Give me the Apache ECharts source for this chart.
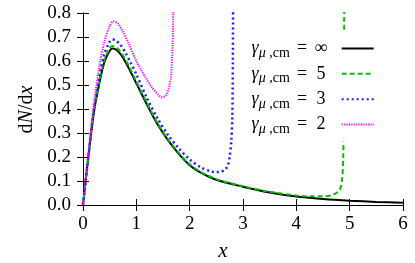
<!DOCTYPE html>
<html><head><meta charset="utf-8">
<script src="https://cdn.jsdelivr.net/npm/echarts@6/dist/echarts.min.js"></script>
<style>html,body{margin:0;padding:0;background:#fff}#c{width:415px;height:263px}</style>
</head><body><div id="c"></div>
<script>
const legendNames = ['∞', '5', '3', '2'];
const xTicks = [0, 1, 2, 3, 4, 5, 6];

const xInf = [0,0.1,0.2,0.3,0.4,0.5,0.55,0.6,0.7,0.8,0.9,1.0,1.2,1.4,1.6,1.8,2.0,2.2,2.5,3.0,3.5,4.0,4.5,5.0,5.5,6.0];
const yInf = [0,0.2,0.38,0.5,0.595,0.643,0.652,0.65,0.63,0.595,0.552,0.507,0.418,0.335,0.268,0.212,0.166,0.136,0.105,0.076,0.052,0.035,0.025,0.018,0.013,0.009];

const x5 = [0,0.1,0.2,0.3,0.4,0.5,0.55,0.6,0.7,0.8,0.9,1.0,1.2,1.4,1.6,1.8,2.0,2.2,2.5,3.0,3.5,4.0,4.3,4.5,4.65,4.75,4.82,4.86,4.88,4.89,4.9];
const y5 = [0,0.2,0.385,0.508,0.604,0.653,0.662,0.66,0.64,0.605,0.561,0.515,0.425,0.341,0.272,0.216,0.17,0.139,0.108,0.078,0.055,0.04,0.036,0.036,0.04,0.05,0.066,0.11,0.2,0.4,0.9];

const x3 = [0,0.1,0.2,0.3,0.4,0.5,0.55,0.6,0.7,0.8,0.9,1.0,1.2,1.4,1.6,1.8,2.0,2.2,2.4,2.5,2.6,2.67,2.72,2.75,2.78,2.8,2.81,2.815];
const y3 = [0,0.2,0.39,0.528,0.628,0.68,0.69,0.688,0.668,0.633,0.59,0.545,0.445,0.36,0.29,0.235,0.19,0.158,0.14,0.137,0.14,0.148,0.168,0.2,0.265,0.36,0.6,0.9];

const x2 = [0,0.1,0.2,0.3,0.4,0.5,0.57,0.65,0.75,0.85,1.0,1.1,1.2,1.3,1.4,1.48,1.55,1.6,1.65,1.68,1.7];
const y2 = [0,0.21,0.41,0.57,0.68,0.745,0.765,0.757,0.722,0.677,0.6,0.56,0.522,0.488,0.462,0.449,0.455,0.478,0.535,0.67,0.9];

const serif = 'Liberation Serif';
function pairs(xs, ys) { return xs.map((x, i) => [x, ys[i]]); }

const styles = [
  {color: '#000000', width: 2, type: 'solid'},
  {color: '#00c000', width: 2, type: [5, 3]},
  {color: '#1a1aff', width: 2.5, type: [2, 3]},
  {color: '#ff00ff', width: 2, type: [1.2, 1.2]}
];
const datasets = [pairs(xInf, yInf), pairs(x5, y5), pairs(x3, y3), pairs(x2, y2)];

const axisCommon = {
  type: 'value', min: 0,
  axisLine: {show: true, lineStyle: {color: '#000', width: 1}},
  axisTick: {show: true, inside: true, length: 6, lineStyle: {color: '#000', width: 1}},
  splitLine: {show: false}
};

const chart = echarts.init(document.getElementById('c'), null, {renderer: 'canvas'});
chart.setOption({
  animation: false,
  backgroundColor: '#fff',
  grid: {left: 83, right: 12, top: 13, bottom: 58},
  xAxis: [
    Object.assign({}, axisCommon, {position: 'bottom', max: 6, interval: 1,
      axisLabel: {show: true, margin: 10, color: '#000', fontFamily: serif, fontSize: 19,
        formatter: v => xTicks.includes(v) ? String(v) : ''}}),
    Object.assign({}, axisCommon, {position: 'top', max: 6, interval: 1, axisLabel: {show: false}})
  ],
  yAxis: [
    Object.assign({}, axisCommon, {position: 'left', max: 0.8, interval: 0.1,
      axisLabel: {show: true, margin: 12, color: '#000', fontFamily: serif, fontSize: 19,
        formatter: v => v.toFixed(1)}}),
    Object.assign({}, axisCommon, {position: 'right', max: 0.8, interval: 0.1, axisLabel: {show: false}})
  ],
  legend: {
    show: true, orient: 'vertical', align: 'right',
    left: 244.5, top: 30.7,
    padding: [5.7, 8, 5, 6],
    backgroundColor: '#fff',
    itemWidth: 32, itemHeight: 14, itemGap: 1.4,
    itemStyle: {opacity: 0},
    data: legendNames,
    formatter: name => '{g|γ}{s|μ}{t|,cm}{e|=}{v|' + name + '}',
    textStyle: {
      color: '#000', fontFamily: serif, fontSize: 18,
      rich: {
        g: {fontFamily: serif, fontStyle: 'italic', fontSize: 18, lineHeight: 16, width: 9, color: '#000'},
        s: {fontFamily: serif, fontStyle: 'italic', fontSize: 14, lineHeight: 4, width: 5.5, padding: [10, 0, 0, 0], color: '#000'},
        t: {fontFamily: serif, fontSize: 14, lineHeight: 4, width: 29, padding: [10, 0, 0, 0], color: '#000'},
        e: {fontFamily: serif, fontSize: 18, lineHeight: 16, width: 16, align: 'center', color: '#000'},
        v: {fontFamily: serif, fontSize: 18, lineHeight: 16, width: 22, align: 'center', padding: [0, 4.7, 0, 0], color: '#000'}
      }
    }
  },
  series: legendNames.map((n, i) => ({
    name: n, type: 'line', xAxisIndex: 0, yAxisIndex: 0,
    data: datasets[i], symbol: 'none', showSymbol: false,
    smooth: 0.3, clip: true,
    lineStyle: {color: styles[i].color, width: styles[i].width, type: styles[i].type},
    itemStyle: {color: styles[i].color}
  })),
  graphic: [
    {type: 'text', x: 27, y: 109.5, rotation: Math.PI / 2,
      style: {text: '{r|d}{i|N}{r|/d}{i|x}', align: 'center', verticalAlign: 'middle',
        rich: {r: {fontFamily: serif, fontSize: 20, fill: '#000'}, i: {fontFamily: serif, fontStyle: 'italic', fontSize: 20, fill: '#000'}}}},
    {type: 'text', x: 223, y: 251, style: {text: 'x', fontFamily: serif, fontStyle: 'italic', fontSize: 21, fill: '#000', align: 'center', verticalAlign: 'middle'}}
  ]
});
</script></body></html>
